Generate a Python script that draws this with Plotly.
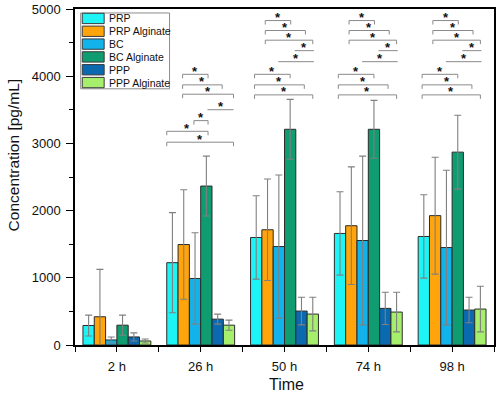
import plotly.graph_objects as go

# ---------------- data ----------------
times = ["2 h", "26 h", "50 h", "74 h", "98 h"]
series_names = ["PRP", "PRP Alginate", "BC", "BC Alginate", "PPP", "PPP Alginate"]
colors = ["#1ef4f6", "#ffa40a", "#12b2ea", "#0f9c70", "#0b69b0", "#a6ef6c"]

prp = [290, 1225, 1600, 1660, 1615]
prp_sd = [155, 745, 620, 620, 620]
prp_alg = [420, 1495, 1715, 1775, 1925]
prp_alg_sd = [705, 815, 755, 875, 870]
bc = [75, 990, 1465, 1555, 1450]
bc_sd = [45, 680, 1065, 1255, 1150]
bc_alg = [295, 2365, 3210, 3210, 2870]
bc_alg_sd = [150, 445, 445, 430, 550]
ppp = [120, 385, 505, 545, 520]
ppp_sd = [60, 75, 205, 240, 190]
ppp_alg = [60, 295, 460, 490, 535]
ppp_alg_sd = [30, 75, 250, 295, 340]

means = [prp, prp_alg, bc, bc_alg, ppp, ppp_alg]
sds = [prp_sd, prp_alg_sd, bc_sd, bc_alg_sd, ppp_sd, ppp_alg_sd]

y_ticks = [0, 1000, 2000, 3000, 4000, 5000]

# significance comparisons: time index -> (slot_from, slot_to, level, with_legs)
sig_26 = [(0.9, 3.15, 4028, True), (0.9, 4.4, 3871, True), (0.9, 5.4, 3732, True),
          (3.1, 5.4, 3501, False), (1.9, 3.15, 3339, True), (-0.5, 3.15, 3180, True),
          (-0.5, 5.4, 3018, True)]
sig_late = [(0.8, 3.05, 4828, True), (0.8, 4.35, 4680, True), (0.8, 5.0, 4536, True),
            (3.4, 5.1, 4380, False), (1.95, 5.1, 4216, False), (-0.15, 3.0, 4028, True),
            (-0.15, 4.25, 3871, True), (-0.15, 5.0, 3722, True)]
significance = {1: sig_26, 2: sig_late, 3: sig_late, 4: sig_late}

# ---------------- figure ----------------
W, H = 498, 393
L, R, T, B = 75, 2, 7, 48
pw, ph = W - L - R, H - T - B
BARGAP = 0.19
slot_w = (1 - BARGAP) / len(series_names)
px_per_unit_y = ph / 5000.0

def px2paper_x(px):
    return (px - L) / pw

def px2paper_y(py):
    return (H - B - py) / ph

fig = go.Figure()
xs = list(range(len(times)))
for name, col, m, s in zip(series_names, colors, means, sds):
    fig.add_trace(go.Bar(
        x=xs, y=m, name=name, showlegend=False,
        marker=dict(color=col, line=dict(color="#2b2b2b", width=1)),
        error_y=dict(type="data", array=s, visible=True, color="#808080",
                     thickness=1.1, width=3.5),
    ))

shapes = []
annotations = []
leg = 4 / px_per_unit_y
for gi, comps in significance.items():
    for a, b, lvl, legs in comps:
        x1 = gi + (a - 2.5) * slot_w
        x2 = gi + (b - 2.5) * slot_w
        if legs:
            path = f"M {x1},{lvl - leg} L {x1},{lvl} L {x2},{lvl} L {x2},{lvl - leg}"
        else:
            path = f"M {x1},{lvl} L {x2},{lvl}"
        shapes.append(dict(type="path", path=path, xref="x", yref="y",
                           line=dict(color="#8a8a8a", width=1)))
        annotations.append(dict(x=(x1 + x2) / 2, y=lvl, xref="x", yref="y", text="<b>*</b>",
                                showarrow=False, yanchor="middle", yshift=3, borderpad=0,
                                font=dict(family="Liberation Sans", size=13, color="#111")))

# manual legend
box_l, box_r, box_t, box_b = 80.7, 170, 11, 87.3
shapes.append(dict(type="rect", xref="paper", yref="paper",
                   x0=px2paper_x(box_l), x1=px2paper_x(box_r),
                   y0=px2paper_y(box_b), y1=px2paper_y(box_t),
                   line=dict(color="#8c8c8c", width=1), fillcolor="white", layer="above"))
for i, (name, col) in enumerate(zip(series_names, colors)):
    cy = 16.5 + 12.9 * i
    shapes.append(dict(type="rect", xref="paper", yref="paper",
                       x0=px2paper_x(82.3), x1=px2paper_x(104.3),
                       y0=px2paper_y(cy + 5.2), y1=px2paper_y(cy - 5.2),
                       line=dict(color="#3a3a3a", width=1), fillcolor=col, layer="above"))
    annotations.append(dict(x=px2paper_x(107.5), y=px2paper_y(cy), xref="paper", yref="paper",
                            text=name, showarrow=False, xanchor="left", yanchor="middle",
                            font=dict(family="Liberation Sans, Arial", size=10.5, color="#111")))

# axis titles
annotations.append(dict(x=px2paper_x(287.5), y=px2paper_y(384.5), xref="paper", yref="paper",
                        text="Time", showarrow=False, xanchor="center", yanchor="middle",
                        font=dict(family="Liberation Sans, Arial", size=16, color="#111")))
annotations.append(dict(x=px2paper_x(13), y=px2paper_y(154), xref="paper", yref="paper",
                        text="Concentration [pg/mL]", showarrow=False, textangle=-90,
                        xanchor="center", yanchor="middle",
                        font=dict(family="Liberation Sans, Arial", size=15.5, color="#111")))

fig.update_layout(
    width=W, height=H,
    margin=dict(l=L, r=R, t=T, b=B),
    barmode="group", bargap=BARGAP, bargroupgap=0,
    plot_bgcolor="white", paper_bgcolor="white",
    shapes=shapes, annotations=annotations,
    font=dict(family="Liberation Sans, Arial", size=13, color="#111"),
)
fig.update_xaxes(
    range=[-0.5, len(times) - 0.5], tickvals=xs, ticktext=times,
    showgrid=False, zeroline=False,
    showline=True, linecolor="black", linewidth=1.5, mirror=True,
    ticks="outside", ticklen=5, tickwidth=1, tickcolor="black",
    minor=dict(tick0=0.5, dtick=1, ticks="outside", ticklen=5, tickcolor="black", showgrid=False),
    tickfont=dict(size=13), ticklabelstandoff=4, ticklabeloverflow="allow",
)
fig.update_yaxes(
    range=[0, 5000], tickvals=y_ticks, ticktext=[str(v) for v in y_ticks],
    showgrid=False, zeroline=False,
    showline=True, linecolor="black", linewidth=1.5, mirror=True,
    ticks="outside", ticklen=7, tickwidth=1, tickcolor="black",
    minor=dict(dtick=500, ticks="outside", ticklen=4, tickcolor="black", showgrid=False),
    tickfont=dict(size=13), ticklabelstandoff=3, ticklabeloverflow="allow",
)

fig.write_html("out.html", config={"displayModeBar": False},
               post_script="document.body.style.margin='0';document.body.style.padding='0';")
